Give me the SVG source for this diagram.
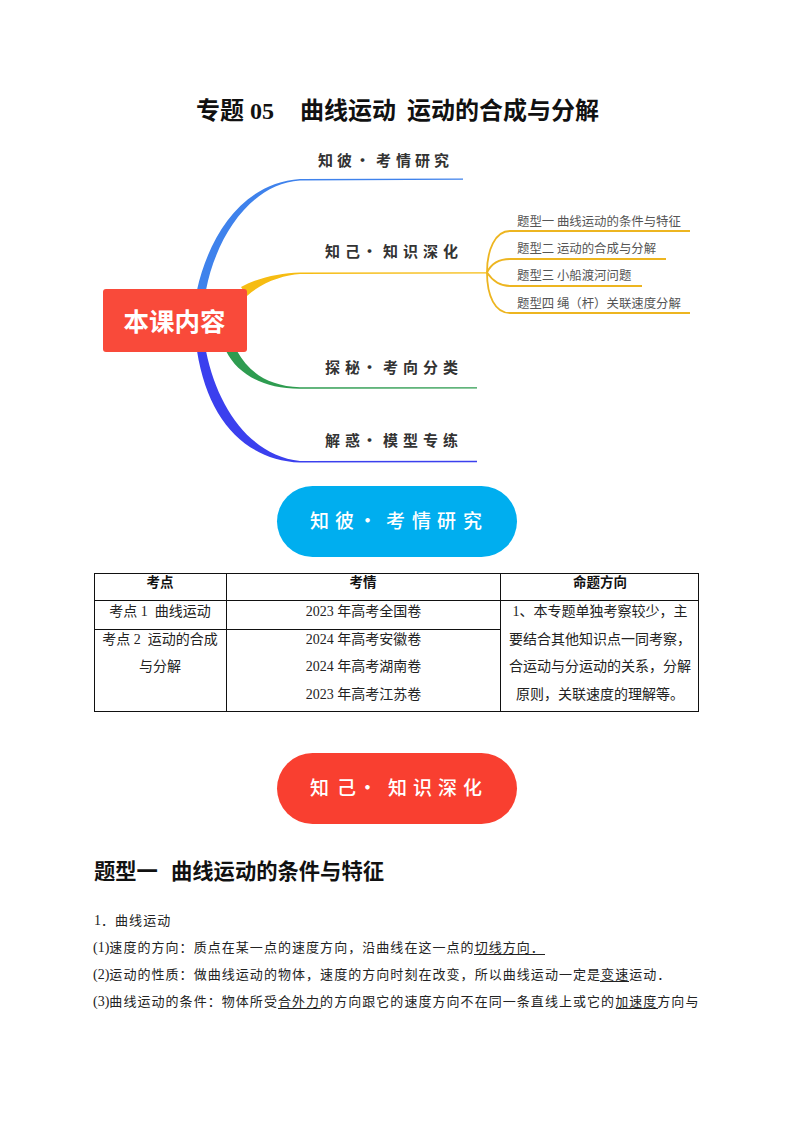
<svg xmlns="http://www.w3.org/2000/svg" width="794" height="1123" viewBox="0 0 794 1123">
<style>
text{font-family:"Liberation Serif","Noto Sans CJK SC",serif;fill:#111}
.hand{font-family:"Noto Sans CJK SC",sans-serif;font-weight:700;font-size:15px;fill:#333}
.pill{font-family:"Noto Sans CJK SC",sans-serif;font-weight:500;font-size:19px;fill:#fff}
.sub{font-family:"Noto Sans CJK SC",sans-serif;font-size:12.4px;fill:#555}
.cell{font-size:14px;text-anchor:middle;fill:#222}
.head{font-size:13.5px;font-weight:700;text-anchor:middle}
.body{font-size:13px;letter-spacing:1.05px;fill:#222}
.num{letter-spacing:0;font-size:14px}
.rule{stroke:#111;stroke-width:1;fill:none}
.ul{stroke:#222;stroke-width:1}
.y{fill:none;stroke:#EDB520;stroke-width:1.8}
</style>
<g id="title"><text y="119" font-size="24" font-weight="700"><tspan x="196">专题</tspan><tspan x="250">05</tspan><tspan x="300">曲线运动</tspan><tspan x="407">运动的合成与分解</tspan></text></g>
<g id="connectors">
<path d="M197 290C208 240 240 183 300 179L463 178.400V179.800L300 180.600C250 184 216 238 206 290Z" fill="#3F82EC"/>
<path d="M241 287C260 277 280 273 300 272.400L487 272.200V273.600L300 274C284 275 262 282 247 296Z" fill="#F6BC12"/>
<path d="M226 351C238 375 265 389 300 388.800L477 388.600V387.200L300 387.200C270 386 250 374 237 351Z" fill="#2E9C50"/>
<path d="M197 351C208 420 245 460 300 462.600L477 462.200V460.800L300 461C252 456 218 410 206 351Z" fill="#3B40EE"/>
<path class="y" d="M487 272.500C487 250 495 231 510 231H690"/>
<path class="y" d="M487 272.500C492 262 500 259 510 259H666"/>
<path class="y" d="M487 272.500C492 280 500 286 510 286H642"/>
<path class="y" d="M487 272.500C487 296 495 313 510 313H690"/>
</g>
<g id="center"><rect x="103" y="289" width="144" height="63" rx="3" fill="#F94A3A"/><text x="174.500" y="331" font-size="25.500" font-weight="700" text-anchor="middle" style="font-family:'Noto Sans CJK SC',sans-serif;fill:#fff">本课内容</text></g>
<g id="branch-1"><text class="hand" x="318 337 351 355 369 376 396 415 434" y="166">知彼 · 考情研究</text></g>
<g id="branch-2"><text class="hand" x="325 345 360 362 377 383 403 423 443" y="257">知己 · 知识深化</text></g>
<g id="branch-3"><text class="hand" x="325 345 360 362 377 383 403 423 443" y="373">探秘 · 考向分类</text></g>
<g id="branch-4"><text class="hand" x="325 345 360 362 377 383 403 423 443" y="446">解惑 · 模型专练</text></g>
<g id="sub-1"><text class="sub" x="517" y="226">题型一 曲线运动的条件与特征</text></g>
<g id="sub-2"><text class="sub" x="517" y="253">题型二 运动的合成与分解</text></g>
<g id="sub-3"><text class="sub" x="517" y="280">题型三 小船渡河问题</text></g>
<g id="sub-4"><text class="sub" x="517" y="308">题型四 绳（杆）关联速度分解</text></g>
<g id="pill-blue"><rect x="277" y="486" width="240" height="71" rx="35.500" fill="#00AEEF"/><text class="pill" x="310 335 355 358 375 386 412 437 463" y="528">知彼 · 考情研究</text></g>
<g id="table">
<rect class="rule" x="94.500" y="573.500" width="604" height="138"/>
<path class="rule" d="M226.500 573.500V711.500M500.500 573.500V711.500M94.500 600.500H698.500M94.500 629.500H500.500"/>
<text class="head" x="160" y="587">考点</text><text class="head" x="363" y="587">考情</text><text class="head" x="600" y="587">命题方向</text>
<text class="cell" x="160" y="616" xml:space="preserve">考点 1  曲线运动</text>
<text class="cell" x="160" y="644" xml:space="preserve">考点 2  运动的合成</text>
<text class="cell" x="160" y="671">与分解</text>
<text class="cell" x="363.500" y="616">2023 年高考全国卷</text>
<text class="cell" x="363.500" y="644">2024 年高考安徽卷</text>
<text class="cell" x="363.500" y="671">2024 年高考湖南卷</text>
<text class="cell" x="363.500" y="699">2023 年高考江苏卷</text>
<text class="cell" x="600" y="616">1、本专题单独考察较少，主</text>
<text class="cell" x="600" y="644">要结合其他知识点一同考察，</text>
<text class="cell" x="600" y="671">合运动与分运动的关系，分解</text>
<text class="cell" x="600" y="699">原则，关联速度的理解等。</text>
</g>
<g id="pill-red"><rect x="277" y="753" width="240" height="71" rx="35.500" fill="#F93F30"/><text class="pill" x="310 337 355 358 375 388 413 438 463" y="795">知己 · 知识深化</text></g>
<g id="content">
<text x="94" y="879" font-size="21.300" font-weight="700">题型一<tspan x="171">曲线运动的条件与特征</tspan></text>
<text class="body" x="94" y="925"><tspan class="num">1</tspan>．曲线运动</text>
<text class="body" x="93" y="952"><tspan class="num">(1)</tspan>速度的方向：质点在某一点的速度方向，沿曲线在这一点的切线方向．</text>
<text class="body" x="93" y="979"><tspan class="num">(2)</tspan>运动的性质：做曲线运动的物体，速度的方向时刻在改变，所以曲线运动一定是变速运动．</text>
<text class="body" x="93" y="1006"><tspan class="num">(3)</tspan>曲线运动的条件：物体所受合外力的方向跟它的速度方向不在同一条直线上或它的加速度方向与</text>
<path class="ul" d="M474 954.500H545M600 981.500H629M278 1008.500H321M616 1008.500H658"/>
</g>
</svg>
